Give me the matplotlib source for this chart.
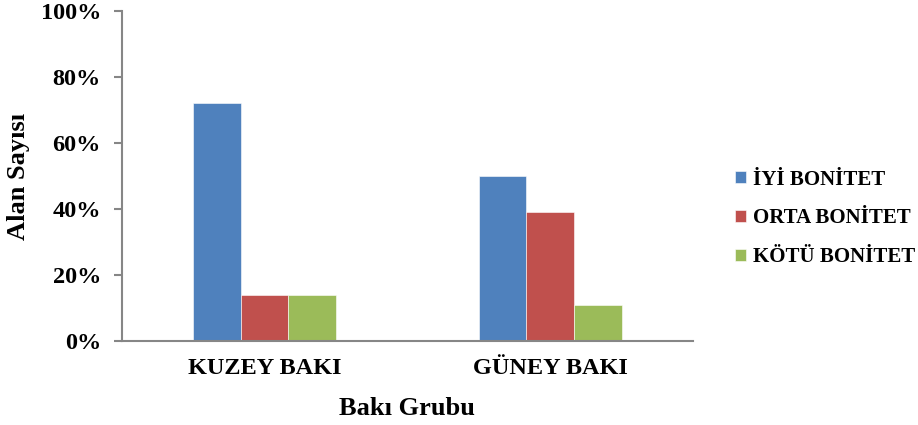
import matplotlib
matplotlib.use("Agg")
import matplotlib.pyplot as plt
import numpy as np
from matplotlib.ticker import FuncFormatter, MultipleLocator

plt.rcParams['font.family'] = ['Liberation Serif', 'DejaVu Serif']
plt.rcParams['font.weight'] = 'bold'

categories = ["KUZEY BAKI", "GÜNEY BAKI"]
series_names = ["İYİ BONİTET", "ORTA BONİTET", "KÖTÜ BONİTET"]
iyi = [0.72, 0.50]
orta = [0.14, 0.39]
kotu = [0.14, 0.11]
colors = ["#4F81BD", "#C0504D", "#9BBB59"]

fig = plt.figure(figsize=(9.18, 4.25), dpi=100)
ax = fig.add_axes([0.1326, 0.1976, 0.6224, 0.7764])

x = np.arange(len(categories))
width = 0.5 / 3
for i, (vals, name, c) in enumerate(zip([iyi, orta, kotu], series_names, colors)):
    ax.bar(x + (i - 1) * width, vals, width, color=c, label=name,
           edgecolor='white', linewidth=0.4)

ax.set_xlim(-0.5, 1.5)
ax.set_ylim(0, 1.0)
ax.yaxis.set_major_locator(MultipleLocator(0.2))
ax.yaxis.set_major_formatter(FuncFormatter(lambda v, p: f"{v*100:.0f}%"))
ax.set_xticks(x)
ax.set_xticklabels(categories, fontsize=17.5, fontweight='bold')
ax.tick_params(axis='x', length=0, pad=12)
ax.tick_params(axis='y', length=6, width=1.5, color='#868686', labelsize=17.5, pad=9)
for lbl in ax.get_yticklabels():
    lbl.set_fontweight('bold')

for side in ['top', 'right']:
    ax.spines[side].set_visible(False)
for side in ['left', 'bottom']:
    ax.spines[side].set_color('#868686')
    ax.spines[side].set_linewidth(1.5)

# Vertical axis title placed in the left margin
fig.text(19 / 918, 0.586, "Alan Sayısı", rotation=90, ha='center', va='center',
         fontsize=19, fontweight='bold')
ax.set_xlabel("Bakı Grubu", fontsize=19, fontweight='bold', labelpad=13)

leg = ax.legend(loc='center left', bbox_to_anchor=(1.04, 0.372), frameon=False,
                prop={'family': ['Liberation Serif'], 'weight': 'bold', 'size': 15},
                handlelength=0.53, handleheight=0.53, handletextpad=0.33,
                labelspacing=0.9)

fig.savefig("out.png", dpi=100)
